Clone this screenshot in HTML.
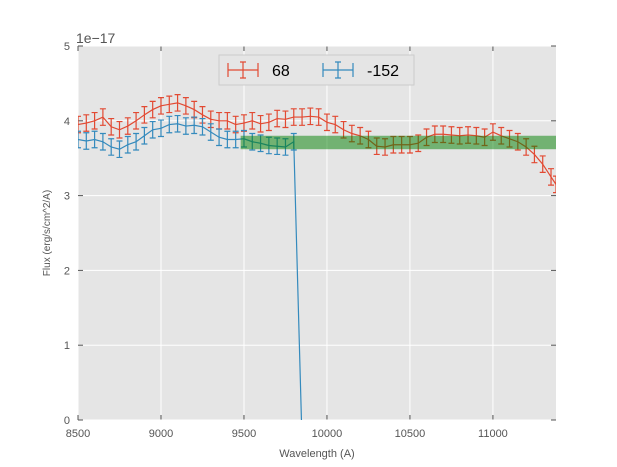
<!DOCTYPE html>
<html><head><meta charset="utf-8"><style>
html,body{margin:0;padding:0;background:#fff;font-family:"Liberation Sans",sans-serif;overflow:hidden;width:617px;height:467px}
svg{display:block}
svg text{font-family:"Liberation Sans",sans-serif}
</style></head><body>
<svg id="c" width="617" height="467"></svg>
<script>
const redX=[8500,8550,8600,8650,8700,8750,8800,8850,8900,8950,9000,9050,9100,9150,9200,9250,9300,9350,9400,9450,9500,9550,9600,9650,9700,9750,9800,9850,9900,9950,10000,10050,10100,10150,10200,10250,10300,10350,10400,10450,10500,10550,10600,10650,10700,10750,10800,10850,10900,10950,11000,11050,11100,11150,11200,11250,11300,11350,11380];
const redY=[3.95,3.97,4.0,4.05,3.92,3.88,3.93,4.0,4.08,4.15,4.2,4.22,4.24,4.2,4.15,4.08,4.02,4.0,4.0,3.95,3.97,4.0,3.96,3.98,4.03,4.02,4.05,4.05,4.06,4.05,3.98,3.95,3.88,3.83,3.8,3.75,3.66,3.65,3.68,3.68,3.68,3.7,3.78,3.82,3.82,3.81,3.8,3.81,3.8,3.78,3.85,3.8,3.76,3.72,3.65,3.55,3.42,3.25,3.15];
const blueX=[8500,8550,8600,8650,8700,8750,8800,8850,8900,8950,9000,9050,9100,9150,9200,9250,9300,9350,9400,9450,9500,9550,9600,9650,9700,9750,9800,9850];
const blueY=[3.75,3.73,3.75,3.72,3.65,3.62,3.68,3.72,3.8,3.88,3.9,3.95,3.96,3.93,3.94,3.92,3.85,3.78,3.75,3.75,3.76,3.72,3.7,3.67,3.66,3.65,3.72,-0.3];
const errV=0.11;
const band={x0:9480,x1:11380,y0:3.62,y1:3.8};
const xTicks=[8500,9000,9500,10000,10500,11000];
const yTicks=[0,1,2,3,4,5];
const L=78,R=556,T=46,B=420,xmin=8500,xmax=11380,ymin=0,ymax=5;
const sx=v=>L+(v-xmin)/(xmax-xmin)*(R-L);
const sy=v=>B-(v-ymin)/(ymax-ymin)*(B-T);
const svg=document.getElementById('c');const NS='http://www.w3.org/2000/svg';
function mk(t,a,p){const e=document.createElementNS(NS,t);for(const k in a)e.setAttribute(k,a[k]);(p||svg).appendChild(e);return e;}
let e=mk('rect',{x:L,y:T,width:R-L,height:B-T,fill:'#e5e5e5'});


const defs=mk('defs',{});const cp=mk('clipPath',{id:'cp'},defs);mk('rect',{x:L,y:T,width:R-L,height:B-T},cp);
xTicks.forEach(v=>{mk('line',{x1:sx(v),x2:sx(v),y1:T,y2:B,stroke:'#fff','stroke-width':1});
 const t=mk('text',{x:sx(v),y:B+17,'font-size':11,fill:'#555','text-anchor':'middle'});t.textContent=v;
 
 
 mk('line',{x1:sx(v),x2:sx(v),y1:B,y2:B-5,stroke:'#555'});mk('line',{x1:sx(v),x2:sx(v),y1:T,y2:T+5,stroke:'#555'});});
yTicks.forEach(v=>{mk('line',{x1:L,x2:R,y1:sy(v),y2:sy(v),stroke:'#fff','stroke-width':1});
 const t=mk('text',{x:L-8,y:sy(v)+4,'font-size':11,fill:'#555','text-anchor':'end'});t.textContent=v;
 
 
 mk('line',{x1:L,x2:L+5,y1:sy(v),y2:sy(v),stroke:'#555'});mk('line',{x1:R,x2:R-5,y1:sy(v),y2:sy(v),stroke:'#555'});});
const g=mk('g',{'clip-path':'url(#cp)'});
function series(xs,ys,col,name){const sg=mk('g',{},g);
 
 
 mk('polyline',{points:xs.map((x,i)=>sx(x)+','+sy(ys[i])).join(' '),fill:'none',stroke:col,'stroke-width':1.2},sg);
 xs.forEach((x,i)=>{const X=sx(x),a=sy(ys[i]+errV),b=sy(ys[i]-errV);
  mk('path',{d:`M${X},${a}V${b}M${X-3},${a}H${X+3}M${X-3},${b}H${X+3}`,stroke:col,'stroke-width':1.2,fill:'none'},sg);});}
series(redX,redY,'#e24a33','series-68');
series(blueX,blueY,'#348abd','series-minus-152');
e=mk('rect',{x:sx(band.x0),y:sy(band.y1),width:sx(band.x1)-sx(band.x0),height:sy(band.y0)-sy(band.y1),fill:'#008000','fill-opacity':0.5},g);


let t=mk('text',{x:L-2,y:T-3,'font-size':14,fill:'#555'});t.textContent='1e\u221217';


t=mk('text',{x:(L+R)/2,y:457,'font-size':11,fill:'#555','text-anchor':'middle'});t.textContent='Wavelength (A)';


t=mk('text',{x:0,y:0,'font-size':10,fill:'#555','text-anchor':'middle',transform:`translate(50,${(T+B)/2}) rotate(-90)`});t.textContent='Flux (erg/s/cm^2/A)';


const lg=mk('g',{});


mk('rect',{x:219,y:55,width:195,height:30,fill:'#e5e5e5',stroke:'#ccc'},lg);
[['68','#e24a33',228],['-152','#348abd',323]].forEach(([n,c,x0])=>{
 mk('path',{d:`M${x0},70H${x0+30}M${x0+15},62V78M${x0+12},62H${x0+18}M${x0+12},78H${x0+18}M${x0},63V77M${x0+30},63V77`,stroke:c,'stroke-width':1.2,fill:'none'},lg);
 const tt=mk('text',{x:x0+44,y:76,'font-size':16,fill:'#000'},lg);tt.textContent=n;
 
 });
</script>
</body></html>
